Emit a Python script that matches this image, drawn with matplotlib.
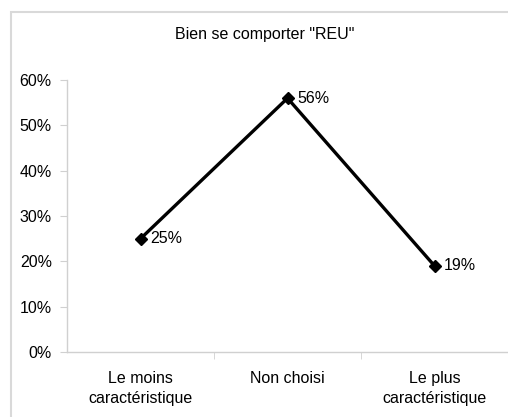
import matplotlib.pyplot as plt
from matplotlib.patches import Rectangle

plt.rcParams['font.family'] = ['Liberation Sans', 'DejaVu Sans']

categories = ['Le moins\ncaractéristique', 'Non choisi', 'Le plus\ncaractéristique']
values = [0.25, 0.56, 0.19]
labels = ['25%', '56%', '19%']
yticks = [0, 0.1, 0.2, 0.3, 0.4, 0.5, 0.6]
ytick_labels = ['0%', '10%', '20%', '30%', '40%', '50%', '60%']

fig = plt.figure(figsize=(5.08, 4.17), dpi=100)
ax = fig.add_axes([0.132, 0.156, 0.868, 0.652])

# cadre gris autour du graphique
fig.patches.append(Rectangle((0.022, -0.05), 1.1, 1.021, transform=fig.transFigure,
                             fill=False, edgecolor='#d9d9d9', linewidth=1.5))

fs = 11.5
x = list(range(len(categories)))
ax.plot(x, values, color='black', linewidth=2.4, marker='D', markersize=6,
        markerfacecolor='black', zorder=3, clip_on=False)
for xi, v, lab in zip(x, values, labels):
    ax.annotate(lab, (xi, v), xytext=(7, 0), textcoords='offset points',
                va='center', ha='left', fontsize=fs)

ax.set_xlim(-0.5, 2.5)
ax.set_ylim(0, 0.6)
ax.set_yticks(yticks)
ax.set_yticklabels(ytick_labels, fontsize=fs)
ax.set_xticks(x)
ax.set_xticklabels(categories, fontsize=fs, linespacing=1.35)
ax.set_xticks([0.5, 1.5], minor=True)
ax.tick_params(axis='x', which='major', length=0, pad=14)
ax.tick_params(axis='x', which='minor', length=5, color='#d0d0d0')
ax.tick_params(axis='y', length=5, color='#d0d0d0', pad=6)

for s in ['top', 'right']:
    ax.spines[s].set_visible(False)
for s in ['left', 'bottom']:
    ax.spines[s].set_color('#d0d0d0')
    ax.spines[s].set_linewidth(1)

fig.text(0.522, 0.918, 'Bien se comporter "REU"', ha='center', va='center', fontsize=fs)

fig.savefig('out.png', dpi=100)
